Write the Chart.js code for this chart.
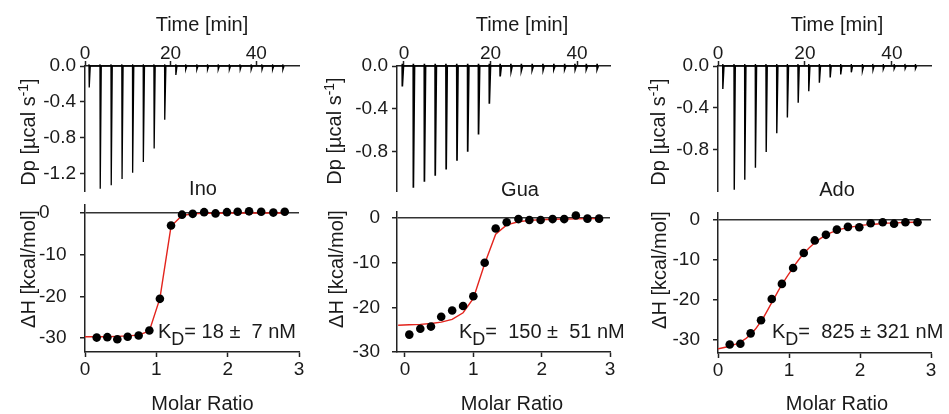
<!DOCTYPE html>
<html><head><meta charset="utf-8">
<script src="https://cdn.jsdelivr.net/npm/chart.js@4/dist/chart.umd.min.js"></script>
<style>
body{margin:0;background:#fff;}
#wrap{position:relative;width:949px;height:414px;overflow:hidden;font-family:"Liberation Sans",Arial,Helvetica,sans-serif;color:#1a1a1a;background:#fff;}
canvas{position:absolute;}
.t{position:absolute;font-size:20px;line-height:20px;white-space:pre;transform:translate(-50%,-50%);}
.r{transform:translate(-50%,-50%) rotate(-90deg);}
.kd{position:absolute;font-size:20px;line-height:20px;white-space:pre;}
.kd sub{font-size:18px;line-height:0;vertical-align:-7px;}
.t sup{font-size:14px;line-height:0;vertical-align:7px;}
</style></head><body>
<div id="wrap">
<canvas id="top1"></canvas><canvas id="bot1"></canvas>
<canvas id="top2"></canvas><canvas id="bot2"></canvas>
<canvas id="top3"></canvas><canvas id="bot3"></canvas>

<div class="t" style="left:202px;top:23.5px">Time [min]</div>
<div class="t" style="left:522px;top:23.5px">Time [min]</div>
<div class="t" style="left:837px;top:23.5px">Time [min]</div>

<div class="t" style="left:202.5px;top:402.5px">Molar Ratio</div>
<div class="t" style="left:512px;top:402.5px">Molar Ratio</div>
<div class="t" style="left:837px;top:402.5px">Molar Ratio</div>

<div class="t r" style="left:28px;top:132px">Dp [µcal s<sup>-1</sup>]</div>
<div class="t r" style="left:334px;top:131px">Dp [µcal s<sup>-1</sup>]</div>
<div class="t r" style="left:658px;top:132px">Dp [µcal s<sup>-1</sup>]</div>

<div class="t r" style="left:27.5px;top:269px">ΔH [kcal/mol]</div>
<div class="t r" style="left:335.5px;top:269px">ΔH [kcal/mol]</div>
<div class="t r" style="left:659px;top:270px">ΔH [kcal/mol]</div>

<div class="t" style="left:203px;top:188px">Ino</div>
<div class="t" style="left:520px;top:189px">Gua</div>
<div class="t" style="left:837px;top:189px">Ado</div>

<div class="kd" style="left:158px;top:321px">K<sub>D</sub>= 18 ±  7 nM</div>
<div class="kd" style="left:459px;top:321px">K<sub>D</sub>=  150 ±  51 nM</div>
<div class="kd" style="left:772px;top:321px">K<sub>D</sub>=  825 ± 321 nM</div>
</div>
<script>
// ---------- DATA ----------
// tick labels
const timeTicks = [0, 20, 40];
const dpTicks1 = [0, -0.4, -0.8, -1.2];
const dpTicks23 = [0, -0.4, -0.8];
const dhTicks = [0, -10, -20, -30];
const ratioTicks = [0, 1, 2, 3];

// thermograms: injection times (min) and peak depths (µcal/s)
const inoTime = [0.93, 3.5, 6.07, 8.6, 11.1, 13.6, 16.1, 18.6, 21.2, 23.5, 26.1, 28.6, 31.1, 33.7, 36.2, 38.8, 41.3, 43.8, 46.2];
const inoPeak = [-0.24, -1.37, -1.33, -1.26, -1.19, -1.07, -0.92, -0.60, -0.10, -0.04, -0.04, -0.04, -0.04, -0.04, -0.04, -0.04, -0.04, -0.04, -0.04];
const guaTime = [-0.4, 2.15, 4.7, 7.2, 9.7, 12.2, 14.7, 17.2, 19.7, 22.2, 24.7, 27.1, 29.6, 32.1, 34.6, 37.1, 39.5, 42.1, 44.6];
const guaPeak = [-0.19, -1.136, -1.08, -1.024, -0.965, -0.884, -0.80, -0.638, -0.352, -0.098, -0.045, -0.04, -0.035, -0.035, -0.03, -0.03, -0.03, -0.03, -0.03];
const adoTime = [1.08, 3.68, 6.13, 8.58, 11.03, 13.49, 15.93, 18.39, 20.85, 23.29, 25.75, 28.2, 30.64, 33.2, 35.6, 38.0, 40.5, 43.0, 45.4];
const adoPeak = [-0.22, -1.18, -1.085, -0.97, -0.82, -0.64, -0.49, -0.35, -0.24, -0.16, -0.11, -0.08, -0.06, -0.045, -0.037, -0.03, -0.027, -0.025, -0.025];
const blip = 0.02;

// isotherms: molar ratio and integrated heats (kcal/mol)
const inoRatio = [0.164, 0.313, 0.453, 0.598, 0.752, 0.902, 1.05, 1.206, 1.36, 1.51, 1.67, 1.83, 1.99, 2.14, 2.30, 2.47, 2.64, 2.80];
const inoDH = [-29.9, -29.8, -30.3, -29.7, -29.4, -28.2, -20.6, -3.0, -0.4, -0.2, 0.2, -0.1, 0.2, 0.3, 0.4, 0.3, 0.1, 0.3];
const inoFitX = [0, 0.164, 0.313, 0.453, 0.598, 0.752, 0.902, 1.05, 1.206, 1.36, 1.51, 1.67, 1.83, 1.99, 2.14, 2.30, 2.47, 2.64, 2.80];
const inoFitY = [-29.7, -29.7, -29.7, -29.6, -29.5, -29.3, -28.3, -20.5, -3.2, -0.6, -0.2, -0.1, -0.05, 0, 0, 0, 0, 0, 0];

const guaRatio = [0.063, 0.224, 0.38, 0.53, 0.69, 0.85, 1.0, 1.166, 1.327, 1.488, 1.66, 1.82, 1.985, 2.16, 2.33, 2.50, 2.67, 2.84];
const guaDH = [-26.1, -24.8, -24.3, -22.1, -20.7, -19.7, -17.5, -10.0, -2.3, -0.9, -0.2, -0.4, -0.4, -0.2, -0.2, 0.6, -0.1, -0.1];
const guaFitX = [-0.1, 0.063, 0.224, 0.38, 0.53, 0.69, 0.85, 1.0, 1.166, 1.327, 1.488, 1.66, 1.82, 1.985, 2.16, 2.33, 2.50, 2.67, 2.84];
const guaFitY = [-24.0, -23.9, -23.8, -23.6, -23.3, -22.7, -21.2, -18.0, -10.2, -3.6, -1.5, -0.8, -0.5, -0.35, -0.25, -0.2, -0.15, -0.1, -0.1];

const adoRatio = [0.165, 0.315, 0.46, 0.606, 0.757, 0.90, 1.058, 1.208, 1.363, 1.52, 1.674, 1.83, 1.99, 2.15, 2.32, 2.48, 2.64, 2.81];
const adoDH = [-31.2, -31.0, -28.4, -25.1, -19.8, -16.0, -12.0, -8.25, -5.1, -3.7, -2.4, -1.7, -1.8, -0.8, -0.55, -0.9, -0.55, -0.55];
const adoFitX = [0, 0.165, 0.315, 0.46, 0.606, 0.757, 0.90, 1.058, 1.208, 1.363, 1.52, 1.674, 1.83, 1.99, 2.15, 2.32, 2.48, 2.64, 2.81];
const adoFitY = [-32.3, -31.6, -30.6, -28.7, -25.4, -20.7, -16.2, -11.9, -8.4, -5.7, -3.8, -2.6, -1.9, -1.4, -1.1, -0.85, -0.7, -0.6, -0.5];

// ---------- LAYOUT / STYLE ----------
const INK = '#1a1a1a';
const AX = '#222';
const FONT = {family: '"Liberation Sans", Arial, sans-serif', size: 19, lineHeight: 1};

function spikes(times, peaks) {
  const pts = [];
  times.forEach((t, i) => {
    pts.push({x: t, y: 0}, {x: t, y: blip}, {x: t + 0.06, y: peaks[i]}, {x: t + 0.3, y: 0});
  });
  return pts;
}
function xy(xs, ys) { return xs.map((x, i) => ({x: x, y: ys[i]})); }
function fixTicks(arr) { return s => { s.ticks = arr.map(v => ({value: v})); }; }

function place(id, left, top, w, h) {
  const c = document.getElementById(id);
  c.width = w; c.height = h;
  c.style.left = left + 'px'; c.style.top = top + 'px';
  c.style.width = w + 'px'; c.style.height = h + 'px';
  return c;
}

function makeTop(id, g, times, peaks, tMin, tMax, dpMin, dpT, lw) {
  const c = place(id, g.left, 0, g.right + 12 - g.left, 205);
  return new Chart(c, {
    type: 'line',
    data: {datasets: [{data: spikes(times, peaks), borderColor: '#000', borderWidth: lw, pointRadius: 0, tension: 0, clip: false, fill: false}]},
    options: {
      responsive: false, animation: false, devicePixelRatio: 1,
      layout: {padding: {left: 0, right: 12, top: 0, bottom: 0}},
      plugins: {legend: {display: false}, tooltip: {enabled: false}},
      scales: {
        x: {type: 'linear', position: 'top', min: tMin, max: tMax,
            afterBuildTicks: fixTicks(timeTicks), afterFit: s => { s.height = 66; },
            ticks: {font: FONT, color: INK, padding: -2, maxRotation: 0, callback: v => String(v)},
            grid: {drawOnChartArea: false, drawTicks: true, tickLength: 5, tickColor: AX, tickWidth: 1.5},
            border: {display: true, color: AX, width: 1.5}},
        y: {type: 'linear', min: dpMin, max: 0,
            afterBuildTicks: fixTicks(dpT), afterFit: s => { s.width = g.axis - g.left; },
            ticks: {font: FONT, color: INK, padding: 4, callback: v => v.toFixed(1)},
            grid: {drawOnChartArea: false, drawTicks: true, tickLength: 5, tickColor: AX, tickWidth: 1.5},
            border: {display: true, color: AX, width: 1.5}}
      }
    }
  });
}

function makeBot(id, g, ratio, dh, fitX, fitY, rMin, dhMin, dhMax, smooth) {
  const c = place(id, g.left, 190, g.right + 12 - g.left, 200);
  const padL = g.farPad || 0;
  return new Chart(c, {
    type: 'scatter',
    data: {datasets: [
      {data: xy(ratio, dh), pointRadius: 4.3, pointBackgroundColor: '#000', pointBorderWidth: 0, showLine: false, clip: false},
      {data: xy(fitX, fitY), showLine: true, borderColor: '#e3241d', borderWidth: 1.4, pointRadius: 0, clip: false,
       tension: smooth ? 0.4 : 0, cubicInterpolationMode: smooth ? 'monotone' : 'default'}
    ]},
    options: {
      responsive: false, animation: false, devicePixelRatio: 1,
      layout: {padding: {left: padL, right: 12, top: 15, bottom: 0}},
      plugins: {legend: {display: false}, tooltip: {enabled: false}},
      scales: {
        x: {type: 'linear', position: 'bottom', min: rMin, max: 3,
            afterBuildTicks: fixTicks(ratioTicks), afterFit: s => { s.height = 390 - g.bottom; },
            ticks: {font: FONT, color: INK, padding: 3, maxRotation: 0, callback: v => String(v)},
            grid: {drawOnChartArea: false, drawTicks: true, tickLength: 5, tickColor: AX, tickWidth: 1.5},
            border: {display: true, color: AX, width: 1.5}},
        y: {type: 'linear', min: dhMin, max: dhMax,
            afterBuildTicks: fixTicks(dhTicks), afterFit: s => { s.width = g.axis - g.left - padL; },
            ticks: {font: FONT, color: INK, padding: g.yPad, crossAlign: g.cross, callback: v => String(v)},
            grid: {drawOnChartArea: true, drawTicks: true, tickLength: 5, tickColor: AX, tickWidth: 1.5,
                   lineWidth: 1.5, color: c => (c.tick && c.tick.value === 0) ? '#333' : 'rgba(0,0,0,0)'},
            border: {display: true, color: AX, width: 1.5}}
      }
    }
  });
}

const g1 = {left: 0, axis: 85, right: 299, bottom: 352, cross: 'far', farPad: 39, yPad: 4};
const g2 = {left: 320, axis: 397, right: 610, bottom: 352, cross: 'near', yPad: 12};
const g3 = {left: 640, axis: 718, right: 931, bottom: 353, cross: 'near', yPad: 13};

makeTop('top1', g1, inoTime, inoPeak, 0, 50, -1.40, dpTicks1, 1.3);
makeTop('top2', g2, guaTime, guaPeak, -1.6, 47.6, -1.17, dpTicks23, 1.7);
makeTop('top3', g3, adoTime, adoPeak, 0, 49, -1.196, dpTicks23, 1.4);

makeBot('bot1', g1, inoRatio, inoDH, inoFitX, inoFitY, 0, -33.36, 1.92, false);
makeBot('bot2', g2, guaRatio, guaDH, guaFitX, guaFitY, -0.117, -30, 1.5, false);
makeBot('bot3', g3, adoRatio, adoDH, adoFitX, adoFitY, 0, -33.33, 1.9, true);
</script>
</body></html>
